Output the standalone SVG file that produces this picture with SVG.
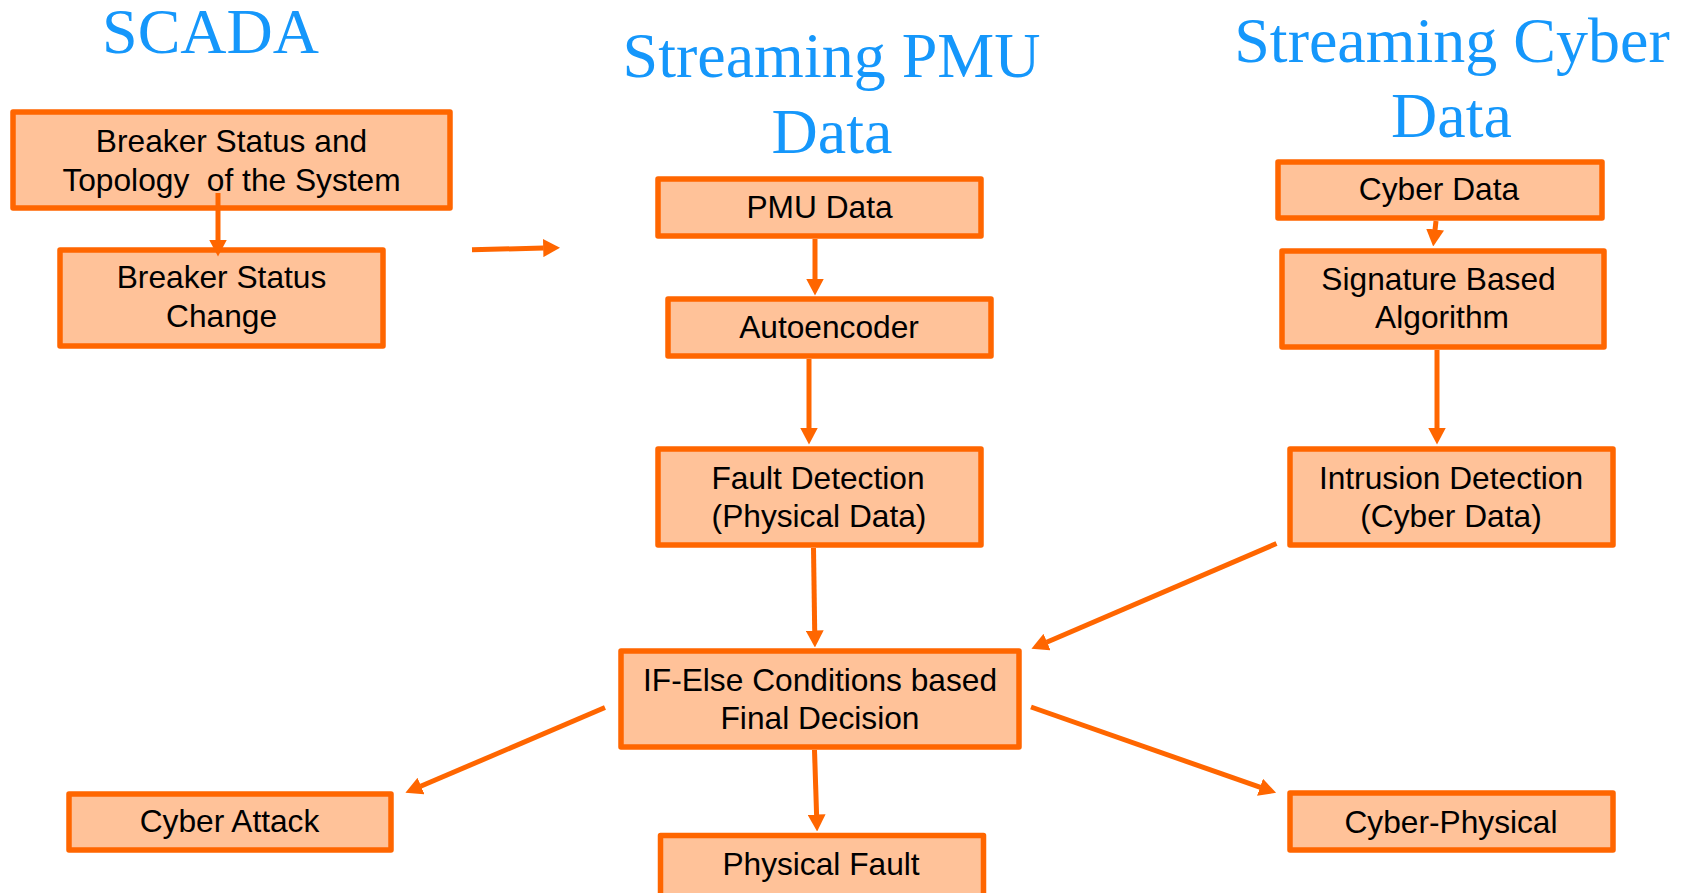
<svg xmlns="http://www.w3.org/2000/svg" width="1689" height="893" viewBox="0 0 1689 893">
  <style>
    .title { font-family: "Liberation Serif", "Times New Roman", serif; font-size: 64px; fill: #1597fb; text-anchor: middle; }
    .box { fill: #ffc299; stroke: #ff6600; stroke-width: 5.5; stroke-linejoin: round; }
    .label { font-family: "Liberation Sans", Arial, sans-serif; font-size: 31.7px; fill: #000000; text-anchor: middle; }
    .conn { stroke: #ff6600; stroke-width: 5; fill: none; marker-end: url(#arrow); }
  </style>
  <defs>
    <marker id="arrow" viewBox="0 0 17 18" markerWidth="17" markerHeight="18" markerUnits="userSpaceOnUse" refX="0.5" refY="9" orient="auto">
      <path d="M0,0 L17,9 L0,18 Z" fill="#ff6600"/>
    </marker>
  </defs>
  <rect width="1689" height="893" fill="#ffffff"/>

  <!-- column headings -->
  <g id="titles">
    <text class="title" x="210.5" y="53">SCADA</text>
    <text class="title" x="831.5" y="77">Streaming PMU</text>
    <text class="title" x="832" y="153">Data</text>
    <text class="title" x="1452" y="62">Streaming Cyber</text>
    <text class="title" x="1451.5" y="137">Data</text>
  </g>

  <!-- SCADA column -->
  <g id="breaker-topology">
    <rect class="box" x="13" y="112" width="437" height="96"/>
    <text class="label" x="231.5" y="152">Breaker Status and</text>
    <text class="label" x="231.5" y="191" xml:space="preserve">Topology  of the System</text>
  </g>
  <g id="breaker-change">
    <rect class="box" x="60" y="250" width="323" height="96"/>
    <text class="label" x="221.5" y="288">Breaker Status</text>
    <text class="label" x="221.5" y="327">Change</text>
  </g>

  <!-- PMU column -->
  <g id="pmu-data">
    <rect class="box" x="658" y="179" width="323" height="57"/>
    <text class="label" x="819.5" y="218">PMU Data</text>
  </g>
  <g id="autoencoder">
    <rect class="box" x="668" y="299" width="323" height="57"/>
    <text class="label" x="829" y="338">Autoencoder</text>
  </g>
  <g id="fault-detection">
    <rect class="box" x="658" y="449" width="323" height="96"/>
    <text class="label" x="818" y="489">Fault Detection</text>
    <text class="label" x="819" y="527">(Physical Data)</text>
  </g>
  <g id="final-decision">
    <rect class="box" x="621" y="651" width="398" height="96"/>
    <text class="label" x="820" y="691">IF-Else Conditions based</text>
    <text class="label" x="820" y="729">Final Decision</text>
  </g>
  <g id="physical-fault">
    <rect class="box" x="660.5" y="835.5" width="323" height="96"/>
    <text class="label" x="821" y="875">Physical Fault</text>
  </g>
  <g id="cyber-attack">
    <rect class="box" x="69" y="794" width="322" height="56"/>
    <text class="label" x="229.5" y="832">Cyber Attack</text>
  </g>

  <!-- Cyber column -->
  <g id="cyber-data">
    <rect class="box" x="1278" y="162" width="324" height="56"/>
    <text class="label" x="1439" y="200">Cyber Data</text>
  </g>
  <g id="signature">
    <rect class="box" x="1282" y="251" width="322" height="96"/>
    <text class="label" x="1438.5" y="290">Signature Based</text>
    <text class="label" x="1442" y="328">Algorithm</text>
  </g>
  <g id="intrusion-detection">
    <rect class="box" x="1290" y="449" width="323" height="96"/>
    <text class="label" x="1451" y="489">Intrusion Detection</text>
    <text class="label" x="1451" y="527">(Cyber Data)</text>
  </g>
  <g id="cyber-physical">
    <rect class="box" x="1290" y="793" width="323" height="57"/>
    <text class="label" x="1451" y="833">Cyber-Physical</text>
  </g>

  <!-- connectors: each line ends at the arrowhead base -->
  <g id="connectors">
    <line class="conn" x1="218" y1="193" x2="218" y2="240"/>
    <line class="conn" x1="472" y1="249.7" x2="543.7" y2="248.1"/>
    <line class="conn" x1="815" y1="239" x2="815" y2="279"/>
    <line class="conn" x1="809" y1="359" x2="809" y2="428"/>
    <line class="conn" x1="813.5" y1="548" x2="814.7" y2="631"/>
    <line class="conn" x1="814.5" y1="750" x2="816.6" y2="815"/>
    <line class="conn" x1="1436" y1="221" x2="1435" y2="230"/>
    <line class="conn" x1="1437" y1="350" x2="1437" y2="428"/>
    <line class="conn" x1="1276.5" y1="543.5" x2="1046.6" y2="642.3"/>
    <line class="conn" x1="1031" y1="707" x2="1260.5" y2="787.4"/>
    <line class="conn" x1="605" y1="707.5" x2="420.6" y2="786.3"/>
  </g>
</svg>
